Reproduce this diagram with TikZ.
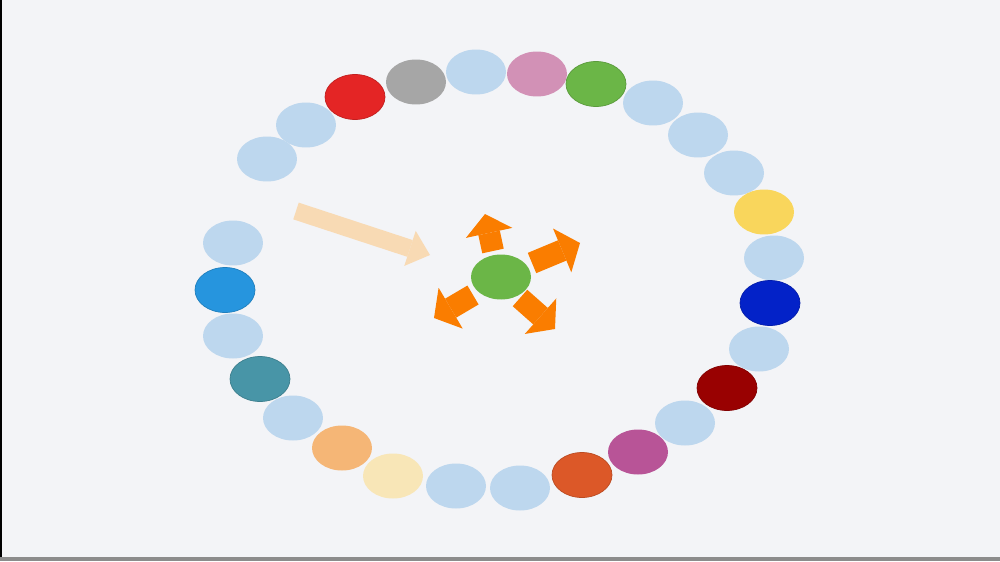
\documentclass[tikz,border=0pt]{standalone}
\usepackage{xcolor}
\usepackage{tikz}
\usetikzlibrary{arrows.meta,shapes.geometric}
\definecolor{canvas}{HTML}{F3F4F7}
\definecolor{paleblue}{HTML}{BDD7EE}
\definecolor{beadred}{HTML}{E42525}
\definecolor{beadgray}{HTML}{A6A6A6}
\definecolor{beadpink}{HTML}{D291B6}
\definecolor{beadgreen}{HTML}{6BB647}
\definecolor{beadyellow}{HTML}{F9D65C}
\definecolor{beadnavy}{HTML}{0322C8}
\definecolor{beadmaroon}{HTML}{990101}
\definecolor{beadplum}{HTML}{B85497}
\definecolor{beadrust}{HTML}{DC5828}
\definecolor{beadcream}{HTML}{F8E6B7}
\definecolor{beadapricot}{HTML}{F5B676}
\definecolor{beadteal}{HTML}{4895A7}
\definecolor{beadsky}{HTML}{2695DE}
\definecolor{burstc}{HTML}{FA7D00}
\definecolor{peachc}{HTML}{F8DAB4}
\tikzset{
  bead/.style={ellipse, fill=#1, inner sep=0pt,
               minimum width=1.2cm, minimum height=0.9cm},
  rimbead/.style={bead=#1, draw=#1!85!black, line width=0.4pt},
  burst/.style={-{Triangle[length=11pt,width=27pt,line width=0pt]}, line width=12.5pt, draw=burstc},
  incoming/.style={-{Triangle[length=12pt,width=21pt,line width=0pt]}, line width=10pt, draw=peachc},
}
\newcommand{\bead}[4]{\node[bead=#4] (#1) at (#2,#3) {};}
\newcommand{\rimbead}[4]{\node[rimbead=#4] (#1) at (#2,#3) {};}
\newcommand{\pale}[3]{\node[bead=paleblue] (#1) at (#2,#3) {};}

\begin{document}
\begin{tikzpicture}[x=0.02cm,y=-0.02cm]
  \fill[canvas] (0,0) rectangle (1000,561);
  \useasboundingbox (0,0) rectangle (1000,561);
  \fill[black] (0,0) rectangle (2,557);
  \fill[black!45] (0,557) rectangle (1000,561);
  % the ring, clockwise from the upper left
  \pale{b1}{267}{159}
  \pale{b2}{306}{125}
  \rimbead{b3}{355}{97}{beadred}
  \bead{b4}{416}{82}{beadgray}
  \pale{b5}{476}{72}
  \bead{b6}{537}{74}{beadpink}
  \rimbead{b7}{596}{84}{beadgreen}
  \pale{b8}{653}{103}
  \pale{b9}{698}{135}
  \pale{b10}{734}{173}
  \bead{b11}{764}{212}{beadyellow}
  \pale{b12}{774}{258}
  \rimbead{b13}{770}{303}{beadnavy}
  \pale{b14}{759}{349}
  \rimbead{b15}{727}{388}{beadmaroon}
  \pale{b16}{685}{423}
  \bead{b17}{638}{452}{beadplum}
  \rimbead{b18}{582}{475}{beadrust}
  \pale{b19}{520}{488}
  \pale{b20}{456}{486}
  \bead{b21}{393}{476}{beadcream}
  \bead{b22}{342}{448}{beadapricot}
  \pale{b23}{293}{418}
  \rimbead{b24}{260}{379}{beadteal}
  \pale{b25}{233}{336}
  \rimbead{b26}{225}{290}{beadsky}
  \pale{b27}{233}{243}
  % centre and its arrows
  \bead{hub}{501}{277}{beadgreen}
  \coordinate (inTail) at (296,211);  \coordinate (inTip) at (430,255);
  \coordinate (upTail) at (493,251);  \coordinate (upTip) at (485,214);
  \coordinate (rtTail) at (532,263);  \coordinate (rtTip) at (580,243);
  \coordinate (dlTail) at (473,295);  \coordinate (dlTip) at (434,318);
  \coordinate (drTail) at (520,298);  \coordinate (drTip) at (555,329);
  \draw[incoming] (inTail) -- (inTip);
  \draw[burst] (upTail) -- (upTip);
  \draw[burst] (rtTail) -- (rtTip);
  \draw[burst] (dlTail) -- (dlTip);
  \draw[burst] (drTail) -- (drTip);
\end{tikzpicture}
\end{document}
